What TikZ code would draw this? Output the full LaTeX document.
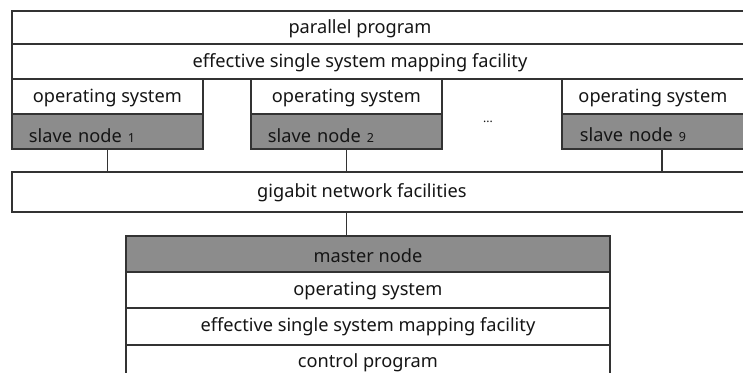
\documentclass[tikz,border=0pt]{standalone}
\usepackage{fontspec}
\setmainfont{Noto Sans}
\definecolor{linec}{HTML}{333333}
\definecolor{grayfill}{HTML}{8C8C8C}
\definecolor{txt}{HTML}{151515}
\newcommand{\slnum}[1]{\hspace{6pt}{\fontsize{12.5}{13}\selectfont #1}}
\begin{document}
\begin{tikzpicture}[x=1pt,y=-1pt,line width=1.8pt,
  box/.style={draw=linec, fill=white, inner sep=0pt, anchor=north west, text=txt,
    font=\fontsize{18.2}{20}\selectfont, text height=12pt, text depth=0pt},
  graybox/.style={box, fill=grayfill},
  slavebox/.style={graybox, inner xsep=17pt, text width=157pt, align=left,
    minimum height=35pt, text height=23pt},
  osbox/.style={box, minimum width=191pt, minimum height=35pt},
  wire/.style={draw=linec, line width=1.8pt}]
\useasboundingbox (0,0) rectangle (743,372);
\clip (0,0) rectangle (743,372);
% top stack
\node[box, minimum width=740pt, minimum height=33pt] (pp) at (11,10) {\hspace*{-44pt}parallel program};
\node[box, minimum width=740pt, minimum height=35pt, text height=13pt] (eff) at (11,43) {\hspace*{-44pt}effective single system mapping facility};
% slave columns
\node[osbox] (os1) at (11,78) {operating system};
\node[slavebox] (s1) at (11,113) {slave node\slnum{1}};
\node[osbox] (os2) at (250,78) {operating system};
\node[slavebox] (s2) at (250,113) {slave node\slnum{2}};
\node[osbox, minimum width=190pt] (os9) at (561,78) {\hspace*{-8pt}operating system};
\node[slavebox, inner xsep=18pt, text width=154pt, text height=20pt] (s9) at (561,113) {slave node\slnum{9}};
\node[text=txt, font=\fontsize{12}{12}\selectfont] (dots) at (488,122) {...};
% network
\node[box, minimum width=740pt, minimum height=40pt] (net) at (11,171) {\hspace*{-40pt}gigabit network facilities};
% master stack
\node[graybox, minimum width=484pt, minimum height=36pt, text height=18pt] (master) at (125,235) {master node};
\node[box, minimum width=484pt, minimum height=36pt] (mos) at (125,271) {operating system};
\node[box, minimum width=484pt, minimum height=37pt, text height=10pt] (meff) at (125,307) {effective single system mapping facility};
\node[box, minimum width=484pt, minimum height=40pt, text height=6pt] (ctrl) at (125,344) {control program};
% connectors
\draw[wire] (s1.south) -- (s1.south |- net.north);
\draw[wire] (s2.south) -- (s2.south |- net.north);
\coordinate (s9c) at ([xshift=5pt]s9.south);
\draw[wire] (s9c) -- (s9c |- net.north);
\draw[wire] (net.south -| s2.south) -- (master.north -| s2.south);
\end{tikzpicture}
\end{document}
